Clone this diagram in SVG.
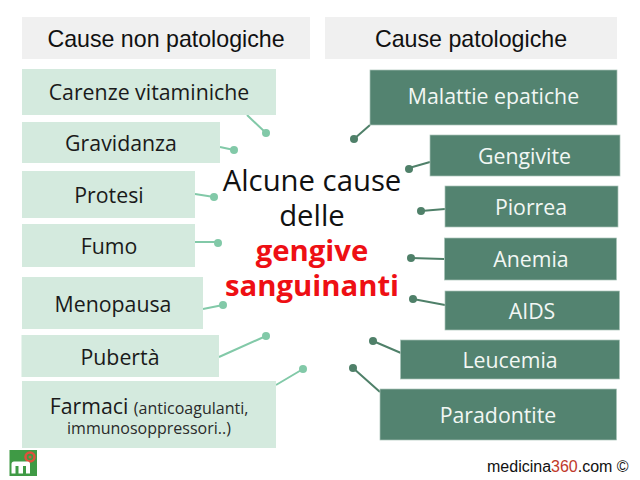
<svg xmlns="http://www.w3.org/2000/svg" width="640" height="480" viewBox="0 0 640 480">
<style>
text{text-anchor:middle;font-family:"Open Sans","Noto Sans",sans-serif}
.h{fill:#f0f0f0}.l{fill:#d4eade}.r{fill:#538370;stroke:#a9c4b8;stroke-width:.7}
.ht{font-family:"Liberation Sans",Arial,sans-serif;font-size:23.200px;fill:#111}
.lt{font-size:21.300px;fill:#1a1a1a}.rt{font-size:21.300px;fill:#f2f7f4}
.cl{stroke:#82c9a8;stroke-width:2;fill:none}.cd{fill:#82c9a8}
.dl{stroke:#4f8069;stroke-width:2;fill:none}.dd{fill:#4f8069}
.c{font-size:29.300px;fill:#111}.red{font-size:29.300px;font-weight:700;fill:#ee0f14}
.s{font-size:16px;fill:#2a2a2a}
</style>
<rect width="640" height="480" fill="#fff"/>
<g id="connectors">
<path class="cl" d="M247 115L266 133M220 147L234 150M195 194L214 197M195 242L218 242M203 309L223 305M219 357L266 336M276 385L303 369"/>
<circle class="cd" cx="266" cy="133" r="4"/><circle class="cd" cx="234" cy="150" r="4"/><circle class="cd" cx="214" cy="197" r="4"/><circle class="cd" cx="218" cy="243" r="4"/><circle class="cd" cx="223" cy="305" r="4"/><circle class="cd" cx="266" cy="336" r="4"/><circle class="cd" cx="303" cy="369" r="4"/>
<path class="dl" d="M370 125L354 139M430 162L409 168M445 209L421 211M444 259L411 258M445 305L413 299M401 353L373 341M380 392L353 368"/>
<circle class="dd" cx="354" cy="139" r="4"/><circle class="dd" cx="409" cy="169" r="4"/><circle class="dd" cx="421" cy="211" r="4"/><circle class="dd" cx="411" cy="258" r="4"/><circle class="dd" cx="413" cy="299" r="4"/><circle class="dd" cx="373" cy="341" r="4"/><circle class="dd" cx="353" cy="368" r="4"/>
</g>
<g id="header-left"><rect class="h" x="22" y="17" width="288" height="42"/><text class="ht" x="166" y="46.500">Cause non patologiche</text></g>
<g id="header-right"><rect class="h" x="325" y="17" width="292" height="42"/><text class="ht" x="471" y="46.500">Cause patologiche</text></g>
<g id="carenze"><rect class="l" x="22" y="69" width="254" height="46"/><text class="lt" x="149" y="100">Carenze vitaminiche</text></g>
<g id="gravidanza"><rect class="l" x="22" y="122" width="198" height="41"/><text class="lt" x="121" y="151">Gravidanza</text></g>
<g id="protesi"><rect class="l" x="22" y="171" width="173" height="47"/><text class="lt" x="109" y="203">Protesi</text></g>
<g id="fumo"><rect class="l" x="22" y="224" width="173" height="43"/><text class="lt" x="109" y="254">Fumo</text></g>
<g id="menopausa"><rect class="l" x="22" y="277" width="181" height="52"/><text class="lt" x="113" y="312">Menopausa</text></g>
<g id="puberta"><rect class="l" x="21.500" y="335" width="197.500" height="42"/><text class="lt" x="120" y="365">Pubertà</text></g>
<g id="farmaci"><rect class="l" x="22" y="381" width="254" height="67"/><text x="149" y="413.500"><tspan class="lt">Farmaci </tspan><tspan class="s">(anticoagulanti,</tspan></text><text class="s" x="149" y="434">immunosoppressori..)</text></g>
<g id="malattie"><rect class="r" x="370" y="70" width="247" height="55"/><text class="rt" x="493.500" y="104">Malattie epatiche</text></g>
<g id="gengivite"><rect class="r" x="430" y="135" width="190" height="41"/><text class="rt" x="524.500" y="164">Gengivite</text></g>
<g id="piorrea"><rect class="r" x="445" y="186" width="173" height="41"/><text class="rt" x="531" y="215">Piorrea</text></g>
<g id="anemia"><rect class="r" x="444.500" y="238" width="172" height="42"/><text class="rt" x="531" y="267">Anemia</text></g>
<g id="aids"><rect class="r" x="445" y="291" width="174.500" height="39"/><text class="rt" x="532" y="319">AIDS</text></g>
<g id="leucemia"><rect class="r" x="400.500" y="340" width="219" height="39"/><text class="rt" x="510" y="368">Leucemia</text></g>
<g id="paradontite"><rect class="r" x="380" y="389" width="236.500" height="51"/><text class="rt" x="498" y="423">Paradontite</text></g>
<g id="title">
<text class="c" x="312" y="190.500">Alcune cause</text>
<text class="c" x="312" y="226">delle</text>
<text class="red" x="312" y="261">gengive</text>
<text class="red" x="312" y="296">sanguinanti</text>
</g>
<g id="logo">
<rect x="9.500" y="450" width="27.500" height="26" fill="#3f9a45"/>
<circle cx="30" cy="457" r="4.500" fill="none" stroke="#e0503c" stroke-width="2.500"/><circle cx="30" cy="457" r="1.500" fill="#e0503c"/>
<path d="M11.500 473.500V464Q11.500 461.500 14 461.500H27.500Q30 461.500 30 464V473.500H26V466H23V473.500H18.500V466H15.500V473.500Z" fill="#fff"/>
</g>
<g id="credit"><text x="487" y="472" font-size="16" style="font-family:'Liberation Sans',Arial,sans-serif;text-anchor:start" fill="#111">medicina<tspan fill="#c0392b">360</tspan>.com ©</text></g>
</svg>
